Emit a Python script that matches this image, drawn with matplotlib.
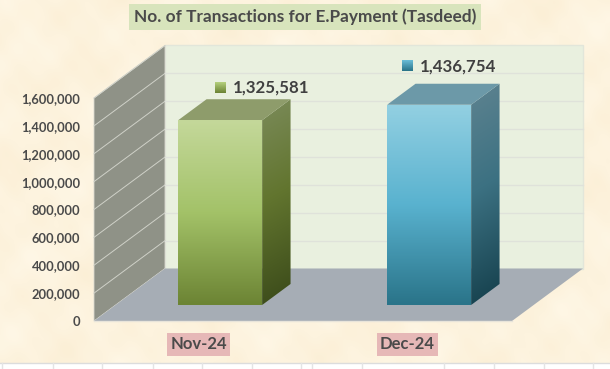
import numpy as np
import matplotlib
matplotlib.use("Agg")
import matplotlib.pyplot as plt
from matplotlib.patches import Polygon, Rectangle
from matplotlib.colors import LinearSegmentedColormap

# ---- data ----
categories = ["Nov-24", "Dec-24"]
values = [1325581, 1436754]
value_labels = ["1,325,581", "1,436,754"]
y_ticks = [0, 200000, 400000, 600000, 800000, 1000000, 1200000, 1400000, 1600000]
title = "No. of Transactions for E.Payment (Tasdeed)"

W, H = 610, 369
FONT = "Lato"
TXT = "#404040"
LBL = "#4A4A4A"

fig = plt.figure(figsize=(W / 100, H / 100), dpi=100)

# page background: soft parchment mottling built from smooth waves
bg = fig.add_axes([0, 0, 1, 1], zorder=0)
bg.set_axis_off()
yy, xx = np.mgrid[0:H, 0:W]
mott = (np.sin(xx / 23 + yy / 41) + np.sin(xx / 13 - yy / 17 + 1.3)
        + np.sin(xx / 37 + yy / 11 + 2.1) + np.sin(xx / 7 + yy / 9 + .5) * .6
        + np.sin(xx / 4.3 - yy / 5.1 + 1.1) * .4) / 3.8
base = np.array([253, 243, 222]) / 255
amp = np.array([1.5, 4, 8]) / 255
img = base[None, None, :] + mott[..., None] * amp[None, None, :]
bg.imshow(np.clip(img, 0, 1), extent=(0, W, H, 0), aspect="auto", zorder=0, interpolation="bilinear")
# spreadsheet row under the picture
bg.add_patch(Rectangle((0, 363), W, 6, fc="white", ec="none", zorder=1))
bg.plot([0, W], [363, 363], color="#dcdcdc", lw=1, zorder=2)
for x in [2, 52.5, 102, 152.5, 202, 252, 301, 312, 362, 444, 494, 543.5, 593]:
    bg.plot([x, x], [363, 369], color="#e4e4e4", lw=1, zorder=2)
bg.set_xlim(0, W)
bg.set_ylim(H, 0)

# front plane of the 3-D chart: real value/category axes
L, R, B, T = 94, 512, 321, 98
ax = fig.add_axes([L / W, 1 - B / H, (R - L) / W, (B - T) / H], zorder=2)
ax.patch.set_alpha(0)
VMAX = 1600000
DX = 71 / (R - L) * 2         # oblique shift (full depth) in category units
DY = 52.5 / (B - T) * VMAX    # oblique shift (full depth) in value units


def P(x, v, d=0.0):
    return (x + d * DX, v + d * DY)


def poly(pts, **kw):
    p = Polygon(pts, closed=True, clip_on=False, **kw)
    ax.add_patch(p)
    return p


def grad_fill(pts, cols, z, slant=0.0):
    xs = [p[0] for p in pts]
    ys = [p[1] for p in pts]
    clip = poly(pts, fc="none", ec="none", zorder=z)
    cmap = LinearSegmentedColormap.from_list("g", cols)
    n = 200
    v, u = np.mgrid[0:1:n * 1j, 0:1:n * 1j]
    im = ax.imshow(np.clip(v - slant * u, 0, 1), cmap=cmap, vmin=0, vmax=1,
                   extent=(min(xs), max(xs), max(ys), min(ys)), aspect="auto",
                   origin="upper", zorder=z, interpolation="bilinear")
    im.set_clip_box(fig.bbox)      # images may extend past the front-plane axes
    im.set_clip_path(clip)


# walls & floor
poly([P(0, 0, 1), P(2, 0, 1), P(2, VMAX, 1), P(0, VMAX, 1)], fc="#E9F0DF", ec="#E2E6DA", lw=1, zorder=1)
poly([P(0, 0, 0), P(0, 0, 1), P(0, VMAX, 1), P(0, VMAX, 0)], fc="#8F9287", ec="#D9D9D0", lw=.6, zorder=1)
poly([P(0, 0, 0), P(2, 0, 0), P(2, 0, 1), P(0, 0, 1)], fc="#A6ADB5", ec="none", zorder=1.5)
ax.plot(*zip(P(0, 0, 0), P(2, 0, 0)), color="#E8E4DA", lw=1, clip_on=False, zorder=1.6)
for t in y_ticks[1:]:
    a, b, c = P(0, t, 0), P(0, t, 1), P(2, t, 1)
    ax.plot([a[0], b[0]], [a[1], b[1]], color="#CFD1C8", lw=.7, clip_on=False, zorder=1.2)
    if t < VMAX:
        ax.plot([b[0], c[0]], [b[1], c[1]], color="#DFE2DA", lw=1.0, clip_on=False, zorder=1.2)

# bars
D0, D1 = 0.305, 0.705
BW = 84 / 209
styles = [
    dict(front=["#C4D89A", "#A3C268", "#6C8434"], side=["#7B8B5A", "#62752F", "#3F4F1C"],
         top="#8E9C6B", key=["#B4CF7C", "#6C8434"]),
    dict(front=["#93D0E2", "#59B2CF", "#2A7489"], side=["#5E8390", "#3C7182", "#194552"],
         top="#6C99A8", key=["#69BCD6", "#2A7489"]),
]
for i, (v, s) in enumerate(zip(values, styles)):
    c = i + 0.5
    x0, x1 = c - BW / 2, c + BW / 2
    # front face
    grad_fill([P(x0, 0, D0), P(x1, 0, D0), P(x1, v, D0), P(x0, v, D0)], s["front"][::-1], 4)
    # side face
    grad_fill([P(x1, 0, D0), P(x1, 0, D1), P(x1, v, D1), P(x1, v, D0)], s["side"][::-1], 3.5, slant=0.08)
    # top face
    poly([P(x0, v, D0), P(x1, v, D0), P(x1, v, D1), P(x0, v, D1)], fc=s["top"], ec="none", zorder=3.6)

ax.set_xlim(0, 2)
ax.set_ylim(0, VMAX)

# real axis ticks and labels
ax.set_yticks(y_ticks)
ax.set_yticklabels([f"{t:,}" for t in y_ticks], fontsize=9.3, fontweight="bold", color=LBL, family=FONT)
ax.set_xticks([0.5, 1.5])
ax.set_xticklabels(categories, fontsize=12, fontweight="bold", color=LBL, family=FONT,
                   bbox=dict(boxstyle="square,pad=0.2", fc="#E6B8B7", ec="none"))
ax.tick_params(axis="y", length=0, pad=10)
ax.tick_params(axis="x", length=0, pad=11)
for sp in ax.spines.values():
    sp.set_visible(False)

# overlay in pixel units for title and value labels
ov = fig.add_axes([0, 0, 1, 1], zorder=3)
ov.set_axis_off()
ov.patch.set_alpha(0)
ov.text(305, 17, title, ha="center", va="center", fontsize=12.4, fontweight="bold", color=LBL, family=FONT,
        bbox=dict(boxstyle="square,pad=0.3", fc="#D8E4BC", ec="none"))
keys = [(215, 82.5), (402, 61)]
for (kx, ky), lab, s in zip(keys, value_labels, styles):
    cm = LinearSegmentedColormap.from_list("k", s["key"])
    ov.imshow(np.linspace(0, 1, 20)[:, None], cmap=cm, extent=(kx, kx + 10.5, ky + 10.5, ky), aspect="auto", zorder=2)
    ov.text(kx + 18, ky + 5.5, lab, ha="left", va="center", fontsize=12.2, fontweight="bold", color=TXT, family=FONT)
ov.set_xlim(0, W)
ov.set_ylim(H, 0)

fig.savefig("out.png", dpi=100)
